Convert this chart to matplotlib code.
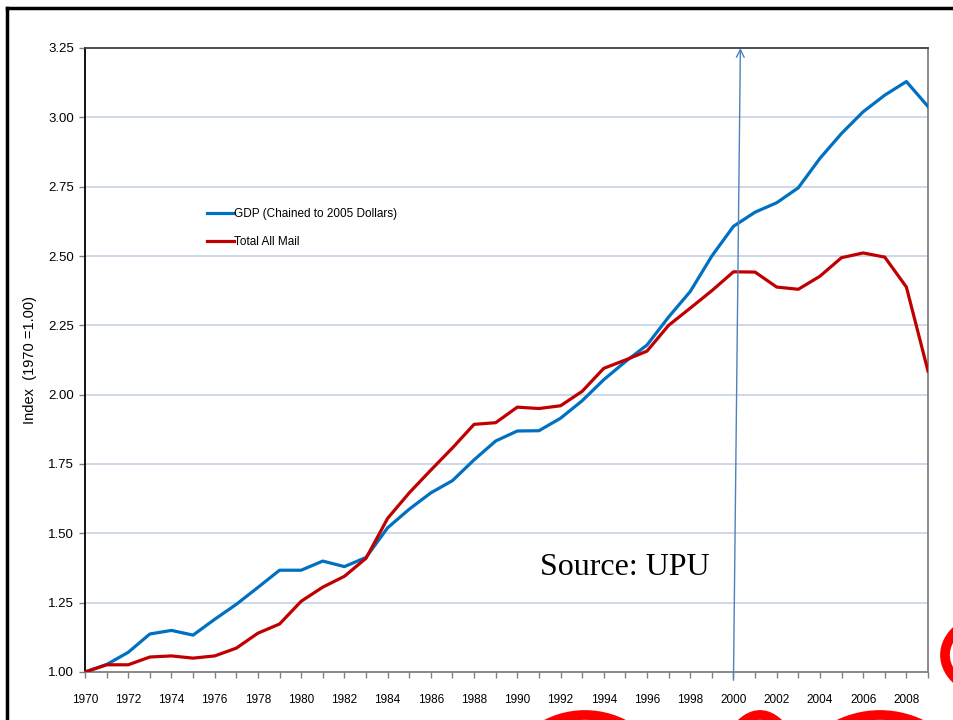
import matplotlib
matplotlib.use("Agg")
import matplotlib.pyplot as plt
from matplotlib.lines import Line2D
from matplotlib.patches import Arc

plt.rcParams['font.family'] = ['Liberation Sans', 'DejaVu Sans']

years = list(range(1970, 2010))
gdp = [1.00, 1.027, 1.071, 1.137, 1.150, 1.133, 1.190, 1.244, 1.305, 1.367,
       1.367, 1.400, 1.380, 1.413, 1.520, 1.587, 1.646, 1.690, 1.765, 1.833,
       1.869, 1.870, 1.915, 1.978, 2.054, 2.119, 2.179, 2.280, 2.372, 2.500,
       2.607, 2.658, 2.692, 2.746, 2.852, 2.942, 3.020, 3.080, 3.129, 3.039]
mail = [1.00, 1.026, 1.026, 1.054, 1.058, 1.050, 1.058, 1.086, 1.140, 1.173,
        1.255, 1.306, 1.345, 1.410, 1.554, 1.646, 1.728, 1.808, 1.893, 1.899,
        1.955, 1.950, 1.960, 2.012, 2.095, 2.125, 2.157, 2.250, 2.312, 2.375,
        2.443, 2.442, 2.388, 2.380, 2.427, 2.494, 2.511, 2.496, 2.388, 2.085]
series_names = ["GDP (Chained to 2005 Dollars)", "Total All Mail"]
y_ticks = [1.00, 1.25, 1.50, 1.75, 2.00, 2.25, 2.50, 2.75, 3.00, 3.25]
source_text = "Source: UPU"
ylabel = "Index  (1970 =1.00)"

W, H = 954, 720
fig = plt.figure(figsize=(W / 100, H / 100), dpi=100)
ax = fig.add_axes([85 / W, 1 - 672 / H, (928 - 85) / W, (672 - 48) / H])

for yv in y_ticks[1:-1]:
    ax.axhline(yv, color='#c5d3e8', lw=1.2, zorder=1)

l1, = ax.plot(years, gdp, color='#0070c0', lw=2.3, zorder=3, label=series_names[0])
l2, = ax.plot(years, mail, color='#c00000', lw=2.3, zorder=3, label=series_names[1])

ax.set_xlim(1970, 2009)
ax.set_ylim(1.0, 3.25)
ax.set_yticks(y_ticks)
ax.set_yticklabels([f"{v:.2f}" for v in y_ticks], fontsize=9.5)
ax.set_xticks(years)
ax.set_xticklabels([str(y) if y % 2 == 0 else "" for y in years], fontsize=8.5)
ax.tick_params(axis='both', direction='out', length=4, color='#808080', width=1)
ax.tick_params(axis='x', pad=12)
ax.tick_params(axis='y', pad=4)

ax.spines['left'].set_color('black')
ax.spines['top'].set_color('#404040')
ax.spines['right'].set_color('#808080')
ax.spines['bottom'].set_color('#808080')
for s in ax.spines.values():
    s.set_linewidth(1.3)

fig.text(30 / W, 1 - 360 / H, ylabel, rotation=90, fontsize=10.5,
         ha='center', va='center')

leg = ax.legend(handles=[l1, l2], loc='upper left', bbox_to_anchor=(117 / 843, 1 - 155 / 624),
                frameon=False, fontsize=8.5, handlelength=2.3, handletextpad=0.0,
                labelspacing=1.4, borderaxespad=0)

fig.text(540 / W, 1 - 575 / H, source_text, fontsize=23,
         family=['Liberation Serif', 'DejaVu Serif'], color='black',
         ha='left', va='baseline')

# annotation arrow
ax.annotate('', xy=(2000.32, 3.25), xytext=(2000.0, 0.97),
            xycoords='data', textcoords='data',
            arrowprops=dict(arrowstyle='->', color='#4f81bd', lw=1.0,
                            mutation_scale=14, shrinkA=0, shrinkB=0),
            annotation_clip=False, zorder=4)

# outer frame
fig.add_artist(Line2D([7 / W, 7 / W], [0, 1 - 8 / H], color='black', lw=2.5,
                      transform=fig.transFigure))
fig.add_artist(Line2D([7 / W, 1], [1 - 8 / H, 1 - 8 / H], color='black', lw=2.5,
                      transform=fig.transFigure))

# decorative red logo fragments (bottom right)
red = '#ff0000'
frag = [((585, 800), 170, 170, 20, 160), ((760, 810), 90, 190, 40, 140),
        ((880, 810), 190, 190, 30, 150), ((1000, 655), 110, 80, 100, 260),
        ((1000, 655), 80, 55, 100, 260)]
for (cx, cy), w, h, t1, t2 in frag:
    a = Arc((cx, H - cy), w, h, theta1=t1, theta2=t2, color=red, lw=7,
            transform=None)
    fig.add_artist(a)

fig.savefig('out.png', dpi=100)
